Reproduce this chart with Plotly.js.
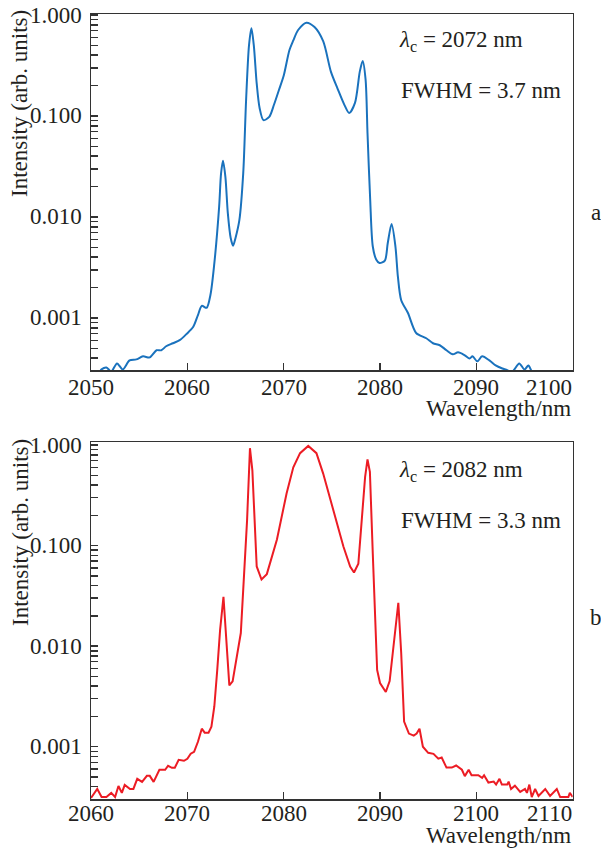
<!DOCTYPE html>
<html>
<head>
<meta charset="utf-8">
<script src="https://cdn.plot.ly/plotly-3.0.1.min.js"></script>
<style>html,body{margin:0;padding:0;background:#fff;}#chart{width:601px;height:848px;}</style>
</head>
<body>
<div id="chart"></div>
<script>
// Panel a: lambda_c = 2072 nm
const wlA = [2050.8,2051.1,2051.6,2052.1,2052.7,2053.3,2054.0,2054.7,2055.4,2056.1,2056.8,2057.3,2057.8,2058.5,2059.2,2059.9,2060.6,2061.1,2061.5,2062.0,2062.4,2062.8,2063.3,2063.5,2063.7,2063.95,2064.2,2064.5,2064.75,2065.0,2065.4,2065.8,2066.1,2066.4,2066.65,2066.9,2067.2,2067.5,2067.9,2068.5,2069.0,2069.5,2070.0,2070.6,2071.0,2071.5,2072.35,2073.2,2074.1,2074.9,2075.6,2076.3,2076.8,2077.4,2077.9,2078.2,2078.5,2078.7,2078.98,2079.25,2079.6,2079.95,2080.5,2080.8,2081.2,2081.6,2081.85,2082.2,2082.9,2083.75,2084.8,2085.5,2086.2,2086.9,2087.55,2088.1,2088.8,2089.3,2089.6,2090.1,2090.6,2091.35,2092.0,2092.7,2093.2,2093.6,2093.9,2094.45,2095.0,2095.4,2095.8,2096.3];
const intA = [0.00028,0.00031,0.000324,0.000295,0.000355,0.000309,0.00038,0.000389,0.000417,0.000407,0.000479,0.000479,0.000525,0.000562,0.000603,0.000692,0.000813,0.00107,0.00132,0.00126,0.0017,0.00347,0.0126,0.027,0.036,0.025,0.011,0.0062,0.0052,0.0062,0.0093,0.027,0.145,0.5,0.74,0.5,0.21,0.12,0.091,0.098,0.13,0.18,0.25,0.45,0.56,0.71,0.84,0.76,0.55,0.275,0.186,0.129,0.107,0.135,0.275,0.35,0.23,0.068,0.0148,0.0051,0.0038,0.0035,0.0037,0.0055,0.0085,0.0051,0.0026,0.0015,0.00112,0.00071,0.00063,0.000562,0.000537,0.000479,0.000437,0.000457,0.000427,0.000398,0.000417,0.000372,0.000417,0.00038,0.000339,0.000316,0.000305,0.00029,0.000305,0.000355,0.000309,0.000339,0.00029,0.00027];

// Panel b: lambda_c = 2082 nm
const wlB = [2060.0,2060.65,2061.1,2061.6,2062.1,2062.5,2062.85,2063.2,2063.5,2064.05,2064.4,2064.8,2065.3,2065.8,2066.1,2066.5,2067.1,2067.7,2068.0,2068.4,2068.7,2069.1,2069.65,2070.0,2070.35,2070.7,2071.1,2071.5,2071.8,2072.2,2072.5,2072.8,2073.1,2073.4,2073.75,2074.36,2074.7,2075.2,2075.55,2076.2,2076.5,2076.75,2077.2,2077.7,2078.25,2079.3,2080.3,2081.0,2081.7,2082.55,2083.4,2084.1,2085.2,2086.2,2086.9,2087.3,2087.75,2088.1,2088.45,2088.7,2088.95,2089.25,2089.5,2089.7,2090.0,2090.6,2091.0,2091.4,2091.75,2091.9,2092.2,2092.5,2093.0,2093.5,2093.8,2094.1,2094.45,2095.0,2095.55,2096.05,2096.4,2096.9,2097.45,2097.9,2098.5,2098.8,2099.2,2099.5,2100.2,2100.6,2100.8,2101.25,2101.8,2102.05,2102.4,2102.65,2103.2,2103.35,2103.6,2104.0,2104.55,2105.05,2105.25,2105.5,2105.75,2106.1,2106.45,2107.15,2107.65,2108.35,2108.7,2109.55,2109.7,2110.0];
const intB = [0.000309,0.00038,0.000316,0.000316,0.000347,0.000316,0.000407,0.000347,0.000417,0.00038,0.00038,0.000479,0.000447,0.000513,0.000513,0.000447,0.000589,0.000589,0.000646,0.000617,0.000617,0.000741,0.000724,0.000759,0.000851,0.000891,0.00112,0.00151,0.00138,0.00138,0.00158,0.00251,0.00575,0.0145,0.031,0.00407,0.00447,0.0085,0.0135,0.178,0.93,0.56,0.062,0.046,0.052,0.115,0.33,0.60,0.83,0.98,0.83,0.52,0.224,0.098,0.062,0.054,0.066,0.178,0.48,0.72,0.54,0.083,0.0182,0.0058,0.0043,0.0035,0.0045,0.01,0.0182,0.027,0.0085,0.00178,0.00135,0.00129,0.00135,0.00151,0.001,0.00087,0.00085,0.00076,0.00078,0.00062,0.00062,0.00065,0.00059,0.00051,0.00059,0.00052,0.00052,0.00049,0.00052,0.00044,0.00045,0.00042,0.00048,0.00042,0.00042,0.00045,0.00038,0.00041,0.000355,0.00038,0.000347,0.00042,0.000316,0.00038,0.000324,0.00038,0.000324,0.00038,0.000316,0.000316,0.000347,0.000316];

const yTickVals = [0.001, 0.01, 0.1, 1];
const yTickText = ['0.001', '0.010', '0.100', '1.000'];
const xTicksA = [2050, 2060, 2070, 2080, 2090, 2100];
const xTicksB = [2060, 2070, 2080, 2090, 2100, 2110];

const W = 601, H = 848;
const FONT = 'Liberation Serif';
const FS = 23;
const TXT = '#231f20';
const AX = '#333333';

const minorVals = [];
for (let e = -4; e <= 0; e++) for (let d = 2; d <= 9; d++) minorVals.push(d * Math.pow(10, e));

// tick marks come from the axes; tick labels are drawn as annotations on the same axes
function yax(domain, range) {
  return {
    type: 'log', domain: domain, range: range,
    tickmode: 'array', tickvals: yTickVals, ticktext: yTickText, showticklabels: false,
    ticks: 'inside', ticklen: 7, tickwidth: 1.5, tickcolor: AX,
    minor: {tickmode: 'array', tickvals: minorVals, ticks: 'inside', ticklen: 7, tickwidth: 1.5, tickcolor: AX, showgrid: false},
    showline: true, linecolor: AX, linewidth: 1.5, mirror: true,
    showgrid: false, zeroline: false
  };
}
function xax(domain, range, ticks, anchor) {
  return {
    domain: domain, range: range, anchor: anchor,
    tickmode: 'array', tickvals: ticks, showticklabels: false,
    ticks: 'inside', ticklen: 7, tickwidth: 1.5, tickcolor: AX,
    showline: true, linecolor: AX, linewidth: 1.5, mirror: true,
    showgrid: false, zeroline: false
  };
}

const px = x => x / W;
const py = y => 1 - y / H;
const xd = [px(91), px(572.7)];

const traces = [
  {x: wlA, y: intA, type: 'scatter', mode: 'lines', xaxis: 'x', yaxis: 'y',
   line: {color: '#1a72bd', width: 2, shape: 'spline', smoothing: 0.8}, hoverinfo: 'skip'},
  {x: wlB, y: intB, type: 'scatter', mode: 'lines', xaxis: 'x2', yaxis: 'y2',
   line: {color: '#ec1c24', width: 2}, hoverinfo: 'skip'}
];

function ann(text, x, y, xanchor, size, extra) {
  return Object.assign({xref: 'paper', yref: 'paper', x: px(x), y: py(y), text: text,
    showarrow: false, xanchor: xanchor, yanchor: 'middle',
    font: {family: FONT, size: size, color: TXT}}, extra || {});
}
const tfont = {family: FONT, size: FS, color: TXT};

const annotations = [
  ann('Intensity (arb. units)', 20, 104, 'center', FS, {textangle: -90}),
  ann('Intensity (arb. units)', 20, 533, 'center', FS, {textangle: -90}),
  ann('<i>λ</i><sub>c</sub> = 2072 nm', 397, 41, 'left', FS),
  ann('FWHM = 3.7 nm', 399, 90, 'left', FS),
  ann('<i>λ</i><sub>c</sub> = 2082 nm', 397, 471, 'left', FS),
  ann('FWHM = 3.3 nm', 399, 520, 'left', FS),
  ann('Wavelength/nm', 573, 409, 'right', FS),
  ann('Wavelength/nm', 573, 835, 'right', FS),
  ann('a', 596, 213, 'center', FS),
  ann('b', 596, 617, 'center', FS)
];
// x tick labels (last one right-aligned at the axis end, as in the original)
[[xTicksA, 'x', 387], [xTicksB, 'x2', 813]].forEach(([ticks, xr, yp]) => {
  ticks.forEach((t, i) => {
    const last = i === ticks.length - 1;
    annotations.push({xref: xr, yref: 'paper', x: t, y: py(yp), text: String(t), showarrow: false,
      xanchor: last ? 'right' : 'center', yanchor: 'middle', xshift: last ? 1 : 0, font: tfont});
  });
});
// y tick labels
['y', 'y2'].forEach(yr => {
  yTickVals.forEach((v, i) => {
    annotations.push({xref: 'paper', yref: yr, x: px(84), y: Math.log10(v), text: yTickText[i], showarrow: false,
      xanchor: 'right', yanchor: 'middle', font: tfont});
  });
});

const layout = {
  width: W, height: H,
  margin: {l: 0, r: 0, t: 0, b: 0},
  paper_bgcolor: '#fff', plot_bgcolor: '#fff',
  font: {family: FONT, size: FS, color: TXT},
  showlegend: false,
  xaxis: xax(xd, [2050, 2100], xTicksA, 'y'),
  yaxis: Object.assign(yax([py(370), py(14)], [-3.515, 0.01]), {anchor: 'x'}),
  xaxis2: xax(xd, [2060, 2110], xTicksB, 'y2'),
  yaxis2: Object.assign(yax([py(799), py(442)], [-3.52, 0.03]), {anchor: 'x2'}),
  annotations: annotations
};

Plotly.newPlot('chart', traces, layout, {staticPlot: true, displayModeBar: false});
</script>
</body>
</html>
